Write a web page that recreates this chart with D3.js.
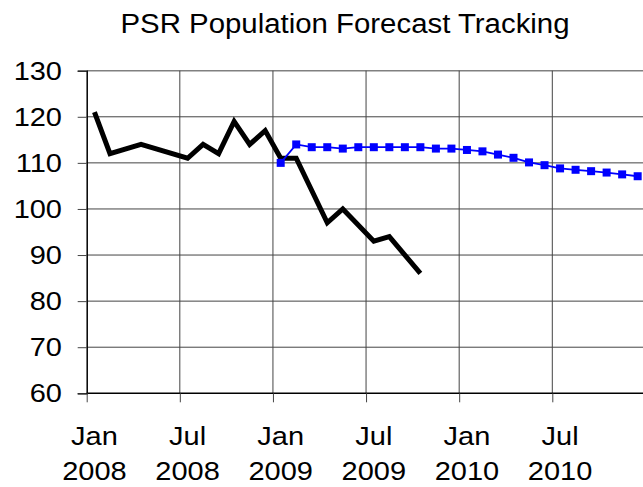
<!DOCTYPE html>
<html>
<head>
<meta charset="utf-8">
<script src="https://cdn.jsdelivr.net/npm/d3@7"></script>
<style>
  html, body { margin: 0; padding: 0; background: #fff; }
  svg { display: block; font-family: "Liberation Sans", Arial, sans-serif; }
</style>
</head>
<body>
<div id="chart"></div>
<script>
// data
const actualMonths = ["2008-01","2008-02","2008-04","2008-07","2008-08","2008-09","2008-10","2008-11","2008-12",
  "2009-01","2009-02","2009-04","2009-05","2009-07","2009-08","2009-10"];
const actualValues = [121, 112, 114, 111, 114, 112, 119, 114, 117, 111, 111, 97, 100, 93, 94, 86];

const forecastMonths = ["2009-01","2009-02","2009-03","2009-04","2009-05","2009-06","2009-07","2009-08","2009-09","2009-10","2009-11","2009-12",
  "2010-01","2010-02","2010-03","2010-04","2010-05","2010-06","2010-07","2010-08","2010-09","2010-10","2010-11","2010-12"];
const forecastValues = [110, 114, 113.4, 113.4, 113.1, 113.4, 113.4, 113.4, 113.4, 113.4, 113.1, 113.1,
  112.8, 112.5, 111.8, 111.1, 110.1, 109.5, 108.8, 108.5, 108.2, 107.9, 107.5, 107.1];

const yTicks = [60, 70, 80, 90, 100, 110, 120, 130];
const xTickMonths = ["2008-01","2008-07","2009-01","2009-07","2010-01","2010-07"];
const xTickLabels = [["Jan","2008"],["Jul","2008"],["Jan","2009"],["Jul","2009"],["Jan","2010"],["Jul","2010"]];

const width = 643, height = 487;
const plotLeft = 86.7, plotTop = 70.7, plotBottom = 393.3;
const labelSize = 25, stretch = 1.16; // the original text is a bit wide

// months counted from Jan 2008, each month is one slot
function monthIndex(s) {
  const [yy, mm] = s.split("-").map(Number);
  return (yy - 2008) * 12 + (mm - 1);
}

const x = d3.scaleLinear().domain([0, 36]).range([plotLeft, plotLeft + 36 * 15.52]);
const y = d3.scaleLinear().domain([60, 130]).range([plotBottom, plotTop]);

const svg = d3.select("#chart").append("svg")
  .attr("width", width)
  .attr("height", height);

// title
svg.append("text")
  .attr("transform", "translate(345,33) scale(1.05,1)")
  .attr("text-anchor", "middle")
  .attr("font-size", 28)
  .attr("fill", "#000")
  .text("PSR Population Forecast Tracking");

// grid
const grid = svg.append("g");
grid.selectAll(".h").data(yTicks.filter(d => d > 60)).join("line")
  .attr("x1", plotLeft).attr("x2", width)
  .attr("y1", d => y(d)).attr("y2", d => y(d))
  .attr("stroke", d => d === 130 ? "#808080" : "#444")
  .attr("stroke-width", d => d === 130 ? 1.5 : 1);
grid.selectAll(".v").data(xTickMonths.slice(1)).join("line")
  .attr("x1", d => x(monthIndex(d))).attr("x2", d => x(monthIndex(d)))
  .attr("y1", plotTop).attr("y2", plotBottom)
  .attr("stroke", "#444")
  .attr("stroke-width", 1);

// y axis
const yAxis = svg.append("g")
  .attr("transform", `translate(${plotLeft},0)`)
  .call(d3.axisLeft(y).tickValues(yTicks).tickSize(9).tickFormat(""));
yAxis.select(".domain").attr("stroke", "#000").attr("stroke-width", 1.5);
yAxis.selectAll(".tick line").attr("stroke", "#444");

svg.append("g").selectAll("text").data(yTicks).join("text")
  .attr("transform", d => `translate(62,${y(d)}) scale(${stretch},1)`)
  .attr("dy", "0.36em")
  .attr("text-anchor", "end")
  .attr("font-size", labelSize)
  .attr("fill", "#000")
  .text(d => d);

// x axis (ticks only, labels centred on the month)
const xAxis = svg.append("g")
  .attr("transform", `translate(0,${plotBottom})`)
  .call(d3.axisBottom(x).tickValues(xTickMonths.map(monthIndex)).tickSize(9).tickFormat(""));
xAxis.select(".domain").attr("stroke", "#000").attr("stroke-width", 1.5).attr("d", `M${plotLeft},0H${width}`);
xAxis.selectAll(".tick line").attr("stroke", "#444");

const xl = svg.append("g").selectAll("g").data(xTickMonths).join("g")
  .attr("transform", d => `translate(${x(monthIndex(d) + 0.5)},0)`);
[0, 1].forEach(line => {
  xl.append("text")
    .attr("transform", `translate(0,${line ? 480 : 445}) scale(${stretch},1)`)
    .attr("text-anchor", "middle")
    .attr("font-size", labelSize)
    .attr("fill", "#000")
    .text((d, i) => xTickLabels[i][line]);
});

// actual population
const actual = actualMonths.map((m, i) => ({ m: monthIndex(m) + 0.5, v: actualValues[i] }));
svg.append("path")
  .datum(actual)
  .attr("fill", "none")
  .attr("stroke", "#000")
  .attr("stroke-width", 5)
  .attr("stroke-linejoin", "miter")
  .attr("d", d3.line().x(d => x(d.m)).y(d => y(d.v)));

// forecast
const forecast = forecastMonths.map((m, i) => ({ m: monthIndex(m) + 0.5, v: forecastValues[i] }));
svg.append("path")
  .datum(forecast)
  .attr("fill", "none")
  .attr("stroke", "#0000ff")
  .attr("stroke-width", 1.8)
  .attr("d", d3.line().x(d => x(d.m)).y(d => y(d.v)));

svg.append("g").selectAll("rect").data(forecast).join("rect")
  .attr("x", d => x(d.m) - 4)
  .attr("y", d => y(d.v) - 4)
  .attr("width", 8)
  .attr("height", 8)
  .attr("fill", "#0000ff");
</script>
</body>
</html>
